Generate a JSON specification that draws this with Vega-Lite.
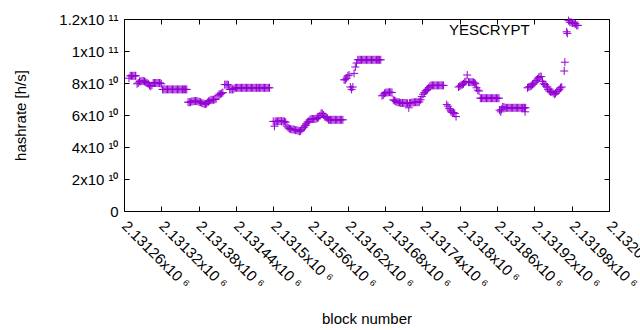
{
"$schema": "https://vega.github.io/schema/vega-lite/v6.json",
"width": 485, "height": 192,
"autosize": {"type": "none"},
"padding": {"left": 124, "top": 19, "right": 31, "bottom": 119},
"background": "white",
"config": {
  "view": {"stroke": "black", "strokeWidth": 1},
  "font": "Liberation Sans",
  "axis": {"grid": false, "domain": false, "tickColor": "black", "tickSize": -5, "tickWidth": 1,
           "labelFont": "Liberation Sans", "labelFontSize": 15, "labelColor": "#000",
           "titleFont": "Liberation Sans", "titleFontSize": 15, "titleFontWeight": "normal", "titleColor": "#000"},
  "legend": {"labelFont": "Liberation Sans", "labelFontSize": 15, "labelColor": "#000"}
},
"data": {"values": [
{"b":2131268,"h":8.3e10},{"b":2131270,"h":8.45e10},{"b":2131272,"h":8.45e10},{"b":2131274,"h":8.45e10},{"b":2131276,"h":8.45e10},{"b":2131278,"h":8.45e10},{"b":2131279,"h":8.45e10},
{"b":2131281,"h":7.95e10},{"b":2131283,"h":8.0e10},{"b":2131285,"h":8.1e10},{"b":2131287,"h":8.1e10},{"b":2131289,"h":8.12e10},{"b":2131291,"h":8.12e10},{"b":2131293,"h":8.1e10},{"b":2131295,"h":8.05e10},{"b":2131297,"h":8.0e10},
{"b":2131299,"h":7.95e10},{"b":2131301,"h":7.85e10},{"b":2131303,"h":7.8e10},{"b":2131305,"h":7.85e10},{"b":2131307,"h":8.0e10},{"b":2131309,"h":8.0e10},{"b":2131311,"h":8.0e10},{"b":2131313,"h":8.0e10},{"b":2131315,"h":8.0e10},{"b":2131317,"h":8.0e10},{"b":2131318,"h":8.0e10},{"b":2131320,"h":7.95e10},
{"b":2131322,"h":7.6e10},{"b":2131324,"h":7.6e10},{"b":2131326,"h":7.6e10},{"b":2131328,"h":7.6e10},{"b":2131330,"h":7.6e10},{"b":2131332,"h":7.6e10},{"b":2131334,"h":7.6e10},{"b":2131336,"h":7.6e10},{"b":2131338,"h":7.6e10},{"b":2131340,"h":7.6e10},{"b":2131342,"h":7.6e10},{"b":2131344,"h":7.6e10},{"b":2131346,"h":7.6e10},{"b":2131348,"h":7.6e10},{"b":2131350,"h":7.6e10},{"b":2131352,"h":7.6e10},{"b":2131354,"h":7.6e10},{"b":2131356,"h":7.6e10},{"b":2131357,"h":7.6e10},{"b":2131359,"h":7.6e10},{"b":2131361,"h":7.6e10},
{"b":2131363,"h":6.8e10},{"b":2131365,"h":6.8e10},{"b":2131367,"h":6.8e10},{"b":2131369,"h":6.85e10},{"b":2131371,"h":6.85e10},{"b":2131373,"h":6.87e10},{"b":2131375,"h":6.87e10},{"b":2131377,"h":6.87e10},{"b":2131379,"h":6.85e10},{"b":2131381,"h":6.82e10},{"b":2131383,"h":6.8e10},{"b":2131385,"h":6.75e10},{"b":2131387,"h":6.72e10},{"b":2131389,"h":6.7e10},{"b":2131391,"h":6.68e10},{"b":2131393,"h":6.72e10},{"b":2131395,"h":6.8e10},{"b":2131396,"h":6.85e10},{"b":2131398,"h":6.9e10},{"b":2131400,"h":6.95e10},{"b":2131402,"h":6.95e10},{"b":2131404,"h":6.95e10},{"b":2131406,"h":6.97e10},{"b":2131408,"h":7.0e10},
{"b":2131411,"h":7.2e10},{"b":2131413,"h":7.3e10},{"b":2131415,"h":7.3e10},{"b":2131417,"h":7.35e10},{"b":2131419,"h":7.4e10},
{"b":2131422,"h":7.9e10},{"b":2131424,"h":7.9e10},{"b":2131426,"h":7.9e10},{"b":2131428,"h":7.88e10},
{"b":2131430,"h":7.6e10},{"b":2131432,"h":7.6e10},{"b":2131434,"h":7.6e10},{"b":2131435,"h":7.6e10},{"b":2131437,"h":7.65e10},
{"b":2131439,"h":7.7e10},{"b":2131441,"h":7.7e10},{"b":2131443,"h":7.7e10},{"b":2131445,"h":7.7e10},{"b":2131447,"h":7.7e10},{"b":2131449,"h":7.7e10},{"b":2131451,"h":7.7e10},{"b":2131453,"h":7.7e10},{"b":2131455,"h":7.7e10},{"b":2131457,"h":7.7e10},{"b":2131459,"h":7.7e10},{"b":2131461,"h":7.7e10},{"b":2131463,"h":7.7e10},{"b":2131465,"h":7.7e10},{"b":2131467,"h":7.7e10},{"b":2131469,"h":7.7e10},{"b":2131471,"h":7.7e10},{"b":2131473,"h":7.7e10},{"b":2131474,"h":7.7e10},{"b":2131476,"h":7.7e10},{"b":2131478,"h":7.7e10},{"b":2131480,"h":7.7e10},{"b":2131482,"h":7.7e10},{"b":2131484,"h":7.7e10},{"b":2131486,"h":7.7e10},{"b":2131488,"h":7.7e10},{"b":2131490,"h":7.7e10},{"b":2131492,"h":7.7e10},{"b":2131494,"h":7.7e10},
{"b":2131500,"h":5.6e10},{"b":2131502,"h":5.3e10},{"b":2131503,"h":5.6e10},{"b":2131505,"h":5.6e10},{"b":2131507,"h":5.6e10},{"b":2131509,"h":5.62e10},{"b":2131511,"h":5.62e10},{"b":2131513,"h":5.62e10},{"b":2131514,"h":5.6e10},{"b":2131516,"h":5.6e10},{"b":2131518,"h":5.6e10},{"b":2131520,"h":5.55e10},{"b":2131522,"h":5.3e10},{"b":2131524,"h":5.2e10},{"b":2131526,"h":5.15e10},{"b":2131528,"h":5.12e10},{"b":2131530,"h":5.1e10},{"b":2131532,"h":5.1e10},{"b":2131534,"h":5.08e10},{"b":2131536,"h":5.05e10},{"b":2131538,"h":5.05e10},{"b":2131540,"h":5.02e10},{"b":2131542,"h":4.98e10},{"b":2131544,"h":5.0e10},
{"b":2131546,"h":5.1e10},{"b":2131548,"h":5.2e10},{"b":2131550,"h":5.25e10},{"b":2131552,"h":5.35e10},{"b":2131553,"h":5.45e10},{"b":2131555,"h":5.55e10},{"b":2131557,"h":5.6e10},{"b":2131559,"h":5.7e10},{"b":2131561,"h":5.75e10},{"b":2131563,"h":5.75e10},{"b":2131565,"h":5.75e10},{"b":2131567,"h":5.75e10},{"b":2131569,"h":5.78e10},{"b":2131571,"h":5.8e10},{"b":2131573,"h":5.85e10},{"b":2131575,"h":5.95e10},{"b":2131577,"h":6.1e10},{"b":2131579,"h":6.1e10},{"b":2131581,"h":6.0e10},{"b":2131583,"h":5.9e10},{"b":2131585,"h":5.85e10},{"b":2131587,"h":5.8e10},
{"b":2131589,"h":5.7e10},{"b":2131591,"h":5.7e10},{"b":2131592,"h":5.7e10},{"b":2131594,"h":5.7e10},{"b":2131596,"h":5.7e10},{"b":2131598,"h":5.7e10},{"b":2131600,"h":5.7e10},{"b":2131602,"h":5.7e10},{"b":2131604,"h":5.7e10},{"b":2131606,"h":5.7e10},{"b":2131608,"h":5.7e10},{"b":2131610,"h":5.7e10},{"b":2131612,"h":5.7e10},
{"b":2131614,"h":8.2e10},{"b":2131616,"h":8.2e10},{"b":2131618,"h":8.3e10},{"b":2131620,"h":8.45e10},{"b":2131622,"h":8.5e10},{"b":2131624,"h":7.75e10},{"b":2131626,"h":7.6e10},{"b":2131628,"h":7.75e10},{"b":2131630,"h":8.6e10},{"b":2131632,"h":9.0e10},{"b":2131634,"h":9.25e10},
{"b":2131636,"h":9.45e10},{"b":2131638,"h":9.45e10},{"b":2131640,"h":9.45e10},{"b":2131642,"h":9.45e10},{"b":2131644,"h":9.45e10},{"b":2131646,"h":9.45e10},{"b":2131648,"h":9.45e10},{"b":2131650,"h":9.45e10},{"b":2131652,"h":9.45e10},{"b":2131654,"h":9.45e10},{"b":2131656,"h":9.45e10},{"b":2131658,"h":9.45e10},{"b":2131660,"h":9.45e10},{"b":2131662,"h":9.45e10},{"b":2131664,"h":9.45e10},{"b":2131666,"h":9.45e10},{"b":2131668,"h":9.45e10},{"b":2131669,"h":9.45e10},{"b":2131671,"h":9.45e10},{"b":2131673,"h":9.45e10},
{"b":2131675,"h":7.2e10},{"b":2131677,"h":7.25e10},{"b":2131679,"h":7.35e10},{"b":2131681,"h":7.4e10},{"b":2131683,"h":7.4e10},{"b":2131685,"h":7.42e10},{"b":2131687,"h":7.42e10},{"b":2131689,"h":7.42e10},{"b":2131691,"h":7.4e10},
{"b":2131693,"h":6.95e10},{"b":2131695,"h":6.9e10},{"b":2131697,"h":6.85e10},{"b":2131699,"h":6.8e10},{"b":2131701,"h":6.8e10},{"b":2131703,"h":6.78e10},{"b":2131705,"h":6.75e10},{"b":2131707,"h":6.75e10},{"b":2131708,"h":6.75e10},{"b":2131710,"h":6.75e10},{"b":2131712,"h":6.75e10},{"b":2131714,"h":6.75e10},{"b":2131716,"h":6.72e10},{"b":2131718,"h":6.45e10},{"b":2131719,"h":6.75e10},{"b":2131721,"h":6.75e10},{"b":2131723,"h":6.78e10},{"b":2131725,"h":6.78e10},{"b":2131727,"h":6.8e10},{"b":2131729,"h":6.8e10},{"b":2131731,"h":6.8e10},{"b":2131733,"h":6.8e10},{"b":2131735,"h":6.82e10},{"b":2131737,"h":6.95e10},{"b":2131739,"h":7.15e10},{"b":2131741,"h":7.3e10},{"b":2131743,"h":7.4e10},{"b":2131745,"h":7.5e10},{"b":2131747,"h":7.55e10},{"b":2131748,"h":7.6e10},{"b":2131750,"h":7.7e10},{"b":2131752,"h":7.8e10},
{"b":2131754,"h":7.85e10},{"b":2131756,"h":7.85e10},{"b":2131758,"h":7.85e10},{"b":2131760,"h":7.85e10},{"b":2131762,"h":7.85e10},{"b":2131764,"h":7.85e10},{"b":2131766,"h":7.85e10},{"b":2131768,"h":7.85e10},{"b":2131770,"h":7.85e10},{"b":2131772,"h":7.85e10},{"b":2131774,"h":7.85e10},
{"b":2131779,"h":6.65e10},{"b":2131781,"h":6.55e10},{"b":2131783,"h":6.4e10},{"b":2131785,"h":6.3e10},{"b":2131786,"h":6.2e10},{"b":2131788,"h":6.15e10},{"b":2131790,"h":6.15e10},{"b":2131792,"h":6.1e10},{"b":2131794,"h":5.9e10},
{"b":2131798,"h":7.75e10},{"b":2131800,"h":7.8e10},{"b":2131802,"h":7.85e10},{"b":2131804,"h":7.9e10},{"b":2131806,"h":7.95e10},{"b":2131808,"h":8.05e10},{"b":2131810,"h":8.1e10},{"b":2131812,"h":8.5e10},{"b":2131814,"h":8.05e10},{"b":2131816,"h":8.05e10},{"b":2131818,"h":8.05e10},{"b":2131820,"h":8.05e10},{"b":2131822,"h":8.05e10},{"b":2131824,"h":8.0e10},{"b":2131825,"h":7.95e10},{"b":2131827,"h":7.7e10},{"b":2131829,"h":7.55e10},{"b":2131831,"h":7.5e10},
{"b":2131833,"h":7.05e10},{"b":2131835,"h":7.05e10},{"b":2131837,"h":7.05e10},{"b":2131839,"h":7.05e10},{"b":2131841,"h":7.05e10},{"b":2131843,"h":7.05e10},{"b":2131845,"h":7.05e10},{"b":2131847,"h":7.05e10},{"b":2131849,"h":7.05e10},{"b":2131851,"h":7.05e10},{"b":2131853,"h":7.05e10},{"b":2131855,"h":7.05e10},{"b":2131857,"h":7.05e10},{"b":2131859,"h":7.05e10},{"b":2131861,"h":7.05e10},{"b":2131863,"h":7.05e10},
{"b":2131864,"h":6.3e10},{"b":2131866,"h":6.2e10},{"b":2131867,"h":6.35e10},{"b":2131869,"h":6.5e10},{"b":2131871,"h":6.5e10},{"b":2131873,"h":6.45e10},{"b":2131875,"h":6.45e10},{"b":2131877,"h":6.45e10},{"b":2131879,"h":6.45e10},{"b":2131881,"h":6.45e10},{"b":2131883,"h":6.45e10},{"b":2131885,"h":6.45e10},{"b":2131887,"h":6.45e10},{"b":2131889,"h":6.45e10},{"b":2131891,"h":6.45e10},{"b":2131893,"h":6.45e10},{"b":2131895,"h":6.45e10},{"b":2131897,"h":6.45e10},{"b":2131899,"h":6.45e10},{"b":2131901,"h":6.45e10},{"b":2131903,"h":6.45e10},{"b":2131904,"h":6.45e10},{"b":2131905,"h":6.2e10},{"b":2131906,"h":6.45e10},
{"b":2131909,"h":7.7e10},{"b":2131911,"h":7.75e10},{"b":2131913,"h":7.78e10},{"b":2131915,"h":7.82e10},{"b":2131917,"h":7.9e10},{"b":2131919,"h":7.95e10},{"b":2131921,"h":8.05e10},{"b":2131923,"h":8.15e10},{"b":2131925,"h":8.25e10},{"b":2131927,"h":8.35e10},{"b":2131929,"h":8.4e10},{"b":2131931,"h":8.4e10},{"b":2131933,"h":8.1e10},{"b":2131935,"h":7.95e10},{"b":2131937,"h":7.9e10},{"b":2131939,"h":7.8e10},{"b":2131941,"h":7.75e10},{"b":2131942,"h":7.6e10},{"b":2131944,"h":7.5e10},{"b":2131946,"h":7.45e10},{"b":2131948,"h":7.45e10},{"b":2131950,"h":7.4e10},{"b":2131952,"h":7.3e10},{"b":2131954,"h":7.35e10},{"b":2131956,"h":7.45e10},{"b":2131958,"h":7.5e10},{"b":2131960,"h":7.6e10},{"b":2131962,"h":7.7e10},{"b":2131964,"h":7.75e10},
{"b":2131968,"h":8.75e10},{"b":2131969,"h":9.3e10},{"b":2131972,"h":11.2e10},{"b":2131973,"h":11.1e10},{"b":2131975,"h":11.9e10},{"b":2131977,"h":11.8e10},{"b":2131979,"h":11.8e10},{"b":2131981,"h":11.75e10},{"b":2131982,"h":11.75e10},{"b":2131984,"h":11.72e10},{"b":2131986,"h":11.7e10},{"b":2131988,"h":11.6e10},{"b":2131990,"h":11.6e10}
]},
"layer": [
  {
    "mark": {"type": "point", "shape": "M-1,0H1M0,-1V1", "size": 64, "filled": false, "strokeWidth": 1, "opacity": 1},
    "encoding": {
      "x": {"field": "b", "type": "quantitative",
            "scale": {"domain": [2131260, 2132040], "nice": false, "zero": false},
            "axis": {"orient": "bottom", "title": "block number", "titlePadding": 20,
                     "values": [2131260,2131320,2131380,2131440,2131500,2131560,2131620,2131680,2131740,2131800,2131860,2131920,2131980,2132040],
                     "labelExpr": "(datum.value/1e6) + 'x10 \u2076'",
                     "labelAngle": 45, "labelAlign": "left", "labelBaseline": "middle", "labelPadding": 17,
                     "labelOverlap": false, "labelBound": false, "labelFlush": false}},
      "y": {"field": "h", "type": "quantitative",
            "scale": {"domain": [0, 1.2e11], "nice": false, "zero": true},
            "axis": {"orient": "left", "title": "hashrate [h/s]", "titlePadding": 30,
                     "values": [0, 2e10, 4e10, 6e10, 8e10, 1e11, 1.2e11],
                     "labelExpr": "datum.value == 0 ? '0' : (datum.value >= 1e11 ? (datum.value/1e11) + 'x10 \u00b9\u00b9' : (datum.value/1e10) + 'x10 \u00b9\u2070')",
                     "labelPadding": 11, "labelOverlap": false, "labelFlush": false}},
      "color": {"datum": "YESCRYPT", "type": "nominal", "scale": {"range": ["#9400D3"]},
                "legend": {"title": null, "orient": "none", "legendX": 306, "legendY": 3,
                           "symbolOpacity": 0, "symbolSize": 64, "labelOffset": 4, "padding": 0}}
    }
  },
  {
    "mark": {"type": "point", "opacity": 0},
    "encoding": {
      "x": {"field": "b", "type": "quantitative",
            "axis": {"orient": "top", "title": null, "labels": false,
                     "values": [2131260,2131320,2131380,2131440,2131500,2131560,2131620,2131680,2131740,2131800,2131860,2131920,2131980,2132040]}},
      "y": {"field": "h", "type": "quantitative",
            "axis": {"orient": "right", "title": null, "labels": false,
                     "values": [0, 2e10, 4e10, 6e10, 8e10, 1e11, 1.2e11]}}
    }
  }
],
"resolve": {"axis": {"x": "independent", "y": "independent"}}
}
